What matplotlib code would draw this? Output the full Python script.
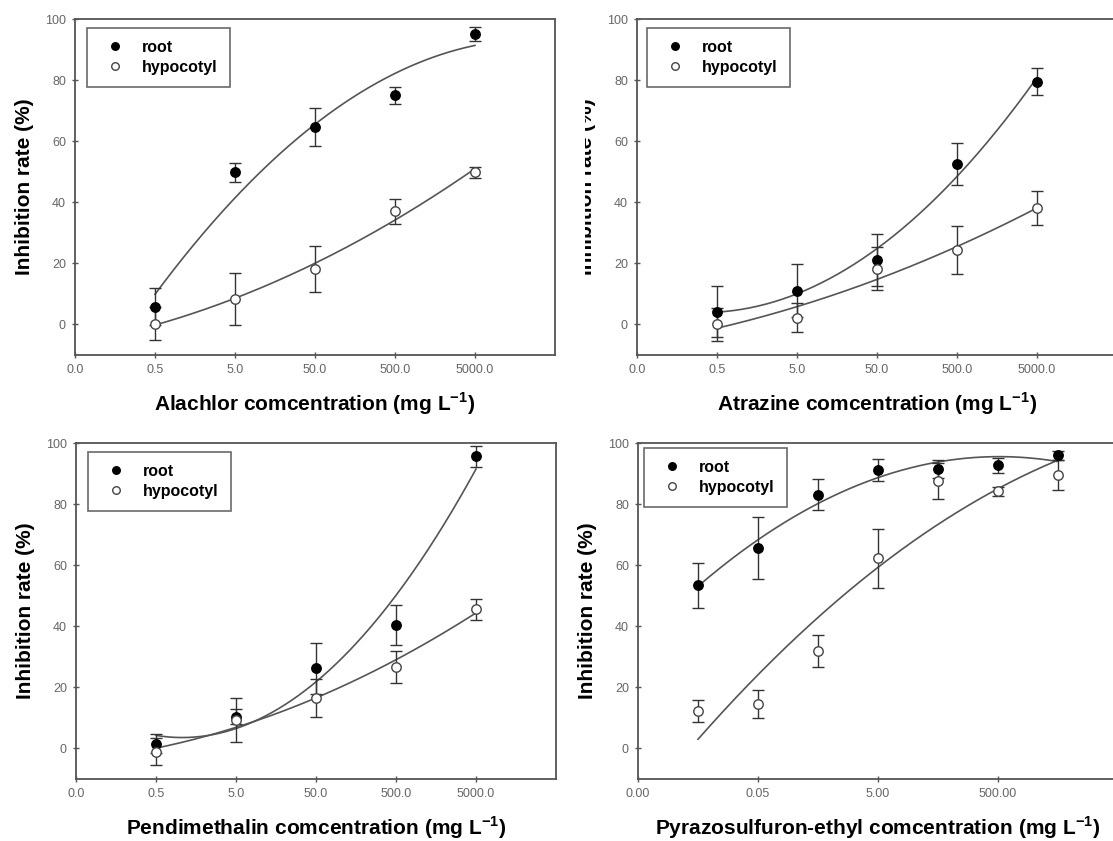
import numpy as np
import matplotlib
matplotlib.use("Agg")
import matplotlib.pyplot as plt
from matplotlib.patches import Rectangle

plt.rcParams['font.family'] = ['Liberation Sans', 'DejaVu Sans']
plt.rcParams['mathtext.fontset'] = 'custom'
plt.rcParams['mathtext.rm'] = 'Liberation Sans'
plt.rcParams['mathtext.bf'] = 'Liberation Sans:bold'

# ---------------- data ----------------
conc5 = [0.5, 5, 50, 500, 5000]
conc7 = [0.005, 0.05, 0.5, 5, 50, 500, 5000]

alachlor_root = [5.8, 49.9, 64.6, 75.0, 95.1]
alachlor_root_err = [6.0, 3.1, 6.3, 2.7, 2.4]
alachlor_hypo = [0.3, 8.2, 18.2, 37.0, 49.9]
alachlor_hypo_err = [5.5, 8.5, 7.5, 4.2, 1.8]

atrazine_root = [4.2, 11.0, 21.0, 52.6, 79.4]
atrazine_root_err = [8.4, 8.7, 8.5, 6.8, 4.4]
atrazine_hypo = [0.0, 2.2, 18.3, 24.4, 38.1]
atrazine_hypo_err = [5.5, 4.7, 7.0, 7.9, 5.7]

pendi_root = [1.6, 10.4, 26.2, 40.4, 95.6]
pendi_root_err = [3.0, 2.5, 8.4, 6.6, 3.5]
pendi_hypo = [-1.1, 9.3, 16.6, 26.6, 45.6]
pendi_hypo_err = [4.4, 7.3, 6.2, 5.3, 3.4]

pyra_root = [53.4, 65.6, 83.1, 91.1, 91.6, 92.7, 96.0]
pyra_root_err = [7.3, 10.2, 5.0, 3.6, 2.9, 2.5, 1.5]
pyra_hypo = [12.2, 14.7, 31.8, 62.2, 87.6, 84.2, 89.4]
pyra_hypo_err = [3.6, 4.6, 5.2, 9.8, 6.0, 1.5, 4.9]

ticks_a = [0.05, 0.5, 5, 50, 500, 5000]
ticklabels_a = ["0.0", "0.5", "5.0", "50.0", "500.0", "5000.0"]
ticks_b = [0.0005, 0.05, 5, 500]
ticklabels_b = ["0.00", "0.05", "5.00", "500.00"]
yticks = [0, 20, 40, 60, 80, 100]

xlabels = [
    r"Alachlor comcentration (mg L$^{\mathbf{-1}}$)",
    r"Atrazine comcentration (mg L$^{\mathbf{-1}}$)",
    r"Pendimethalin comcentration (mg L$^{\mathbf{-1}}$)",
    r"Pyrazosulfuron-ethyl comcentration (mg L$^{\mathbf{-1}}$)",
]
ylabel = "Inhibition rate (%)"
series_names = ["root", "hypocotyl"]

# ---------------- layout ----------------
W, H = 1113, 841
fig = plt.figure(figsize=(W / 100, H / 100), dpi=100)

def box(x0, y0, x1, y1):
    return [x0 / W, 1 - y1 / H, (x1 - x0) / W, (y1 - y0) / H]

panels = [
    dict(rect=box(75, 19, 555, 355), conc=conc5, root=alachlor_root, rerr=alachlor_root_err,
         hypo=alachlor_hypo, herr=alachlor_hypo_err, xlim=(0.05, 50000), ticks=ticks_a,
         tl=ticklabels_a, xl=xlabels[0], leg=(12, 9)),
    dict(rect=box(637, 19, 1117, 355), conc=conc5, root=atrazine_root, rerr=atrazine_root_err,
         hypo=atrazine_hypo, herr=atrazine_hypo_err, xlim=(0.05, 50000), ticks=ticks_a,
         tl=ticklabels_a, xl=xlabels[1], leg=(10, 9)),
    dict(rect=box(76, 443, 556, 779), conc=conc5, root=pendi_root, rerr=pendi_root_err,
         hypo=pendi_hypo, herr=pendi_hypo_err, xlim=(0.05, 50000), ticks=ticks_a,
         tl=ticklabels_a, xl=xlabels[2], leg=(12, 9)),
    dict(rect=box(638, 443, 1118, 779), conc=conc7, root=pyra_root, rerr=pyra_root_err,
         hypo=pyra_hypo, herr=pyra_hypo_err, xlim=(0.0005, 50000), ticks=ticks_b,
         tl=ticklabels_b, xl=xlabels[3], leg=(6, 5)),
]

spine_col = "#555555"
tick_col = "#666666"
err_col = "#333333"
curve_col = "#555555"

for p in panels:
    ax = fig.add_axes(p["rect"])
    x = np.array(p["conc"], dtype=float)
    lx = np.log10(x)
    xs = np.logspace(lx.min(), lx.max(), 200)
    for vals in (p["root"], p["hypo"]):
        coef = np.polyfit(lx, np.array(vals), 2)
        ax.plot(xs, np.polyval(coef, np.log10(xs)), color=curve_col, lw=1.2, zorder=2)
    ax.errorbar(x, p["root"], yerr=p["rerr"], fmt="none", ecolor=err_col, elinewidth=1.0,
                capsize=4, capthick=1.0, zorder=3)
    ax.errorbar(x, p["hypo"], yerr=p["herr"], fmt="none", ecolor=err_col, elinewidth=1.0,
                capsize=4, capthick=1.0, zorder=3)
    h1, = ax.plot(x, p["root"], "o", ms=6.8, mfc="black", mec="black", mew=1.0, zorder=4,
                  label=series_names[0])
    h2, = ax.plot(x, p["hypo"], "o", ms=6.8, mfc="white", mec="#444444", mew=1.0, zorder=4,
                  label=series_names[1])
    ax.set_xscale("log")
    ax.set_xlim(*p["xlim"])
    ax.set_ylim(-10, 100)
    ax.set_xticks(p["ticks"])
    ax.set_xticklabels(p["tl"])
    ax.xaxis.set_minor_locator(matplotlib.ticker.NullLocator())
    ax.set_yticks(yticks)
    ax.tick_params(axis="both", direction="inout", length=5, width=1.0, color=spine_col,
                   labelsize=9, labelcolor=tick_col, pad=4)
    for s in ax.spines.values():
        s.set_color(spine_col)
        s.set_linewidth(1.3)
    ax.set_xlabel(p["xl"], fontsize=15, fontweight="bold", labelpad=10)
    ax.set_ylabel(ylabel, fontsize=15, fontweight="bold", labelpad=8)
    ox, oy = p["leg"]
    bb = ax.get_position()
    ax_wpx = bb.width * W
    ax_hpx = bb.height * H
    leg = ax.legend(handles=[h1, h2], loc="upper left",
                    bbox_to_anchor=(ox / ax_wpx, 1 - oy / ax_hpx),
                    borderaxespad=0, fancybox=False, frameon=True,
                    prop=dict(weight="bold", size=11.5), markerscale=0.8,
                    borderpad=0.75, handlelength=2.0, handletextpad=0.7,
                    labelspacing=0.3, numpoints=1)
    leg.get_frame().set_edgecolor("#444444")
    leg.get_frame().set_linewidth(1.2)

# white cover partially hiding the top-right y label (as in the reference)
fig.add_artist(Rectangle((557.5 / W, 1 - 420 / H), (585 - 557.5) / W, 420 / H,
                         transform=fig.transFigure, facecolor="white", edgecolor="none",
                         zorder=10))

fig.savefig("out.png", dpi=100, facecolor="white")
